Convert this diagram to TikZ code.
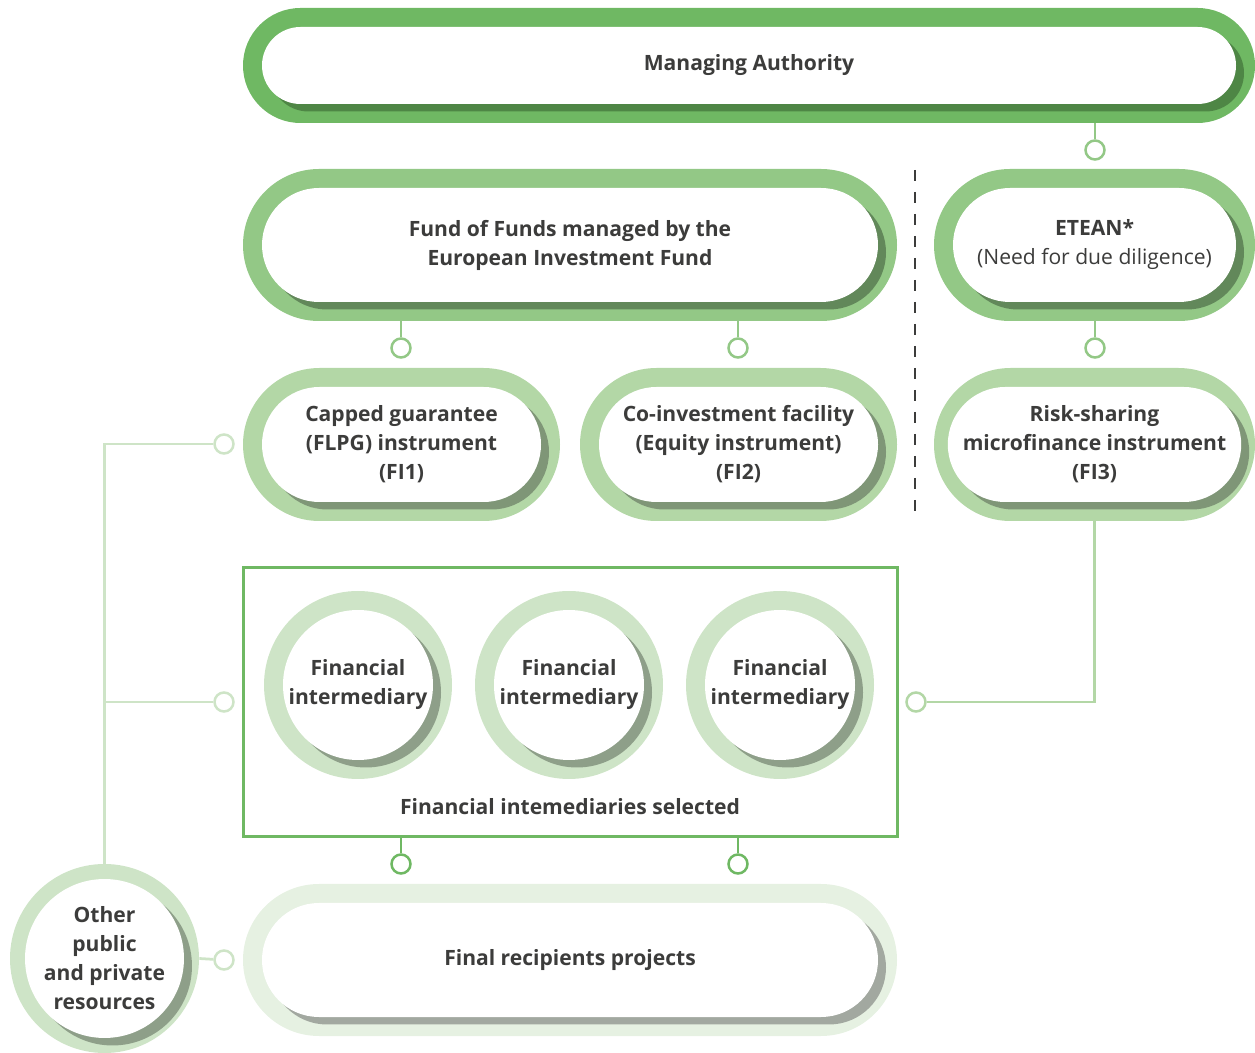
\documentclass[tikz,border=0pt]{standalone}
\usepackage{fontspec}
\setmainfont{Open Sans}
\usetikzlibrary{shapes.misc,shadows}

\definecolor{txt}{HTML}{3C3C3B}
\definecolor{ringA}{HTML}{6FB863}
\definecolor{shadA}{HTML}{4E8645}
\definecolor{ringB}{HTML}{93C886}
\definecolor{shadB}{HTML}{62885A}
\definecolor{ringC}{HTML}{B3D7A6}
\definecolor{shadC}{HTML}{7F9677}
\definecolor{ringD}{HTML}{CEE4C7}
\definecolor{shadD}{HTML}{8E9F89}
\definecolor{ringE}{HTML}{E6F1E2}
\definecolor{shadE}{HTML}{A2A8A0}

\tikzset{
  every node/.style={text=txt, font=\fontsize{12}{16.5}\selectfont\bfseries},
  pill/.style n args={3}{rounded rectangle, inner sep=0pt, fill=#1,
    minimum width=#2*0.02cm, minimum height=#3*0.02cm},
  hole/.style n args={3}{rounded rectangle, inner sep=0pt, fill=white, align=center,
    minimum width=(#2-38)*0.02cm, minimum height=(#3-38)*0.02cm,
    drop shadow={shadow xshift=0.16cm, shadow yshift=-0.15cm, shadow scale=1, opacity=1, fill=#1}},
  disc/.style 2 args={circle, inner sep=0pt, fill=#1, minimum size=#2*0.02cm},
  dischole/.style 2 args={circle, inner sep=0pt, fill=white, align=center,
    minimum size=(#2-38)*0.02cm,
    drop shadow={shadow xshift=0.16cm, shadow yshift=-0.15cm, shadow scale=1, opacity=1, fill=#1}},
  joint/.style={circle, draw=#1, line width=0.05cm, fill=white, minimum size=0.38cm, inner sep=0pt},
  link/.style={draw=#1, line width=0.055cm},
  divider/.style={draw=txt, line width=0.04cm, dash pattern=on 0.22cm off 0.22cm}
}

\begin{document}
\begin{tikzpicture}[x=0.02cm, y=-0.02cm]
  \useasboundingbox (0,0) rectangle (1255,1053);

  % top row
  \node[pill={ringA}{1012}{115}] (ma) at (749,65.5) {};
  \node[hole={shadA}{1012}{115}] (ma-in) at (ma) {Managing Authority};

  \node[pill={ringB}{654}{152}] (fof) at (570,245) {};
  \node[hole={shadB}{654}{152}] (fof-in) at (fof) {Fund of Funds managed by the\\European Investment Fund};
  \node[pill={ringB}{321}{152}] (etean) at (1094.5,245) {};
  \node[hole={shadB}{321}{152}] (etean-in) at (etean) {ETEAN*\\{\mdseries(Need for due diligence)}};

  % instruments
  \node[pill={ringC}{317}{153}] (fi1) at (401.5,444.5) {};
  \node[hole={shadC}{317}{153}] (fi1-in) at (fi1) {Capped guarantee\\(FLPG) instrument\\(FI1)};
  \node[pill={ringC}{317}{153}] (fi2) at (738.5,444.5) {};
  \node[hole={shadC}{317}{153}] (fi2-in) at (fi2) {Co-investment facility\\(Equity instrument)\\(FI2)};
  \node[pill={ringC}{321}{153}] (fi3) at (1094.5,444.5) {};
  \node[hole={shadC}{321}{153}] (fi3-in) at (fi3) {Risk-sharing\\microfinance instrument\\(FI3)};

  \draw[divider] (915,170) -- (915,521);

  % intermediaries
  \node[draw=ringA, line width=0.06cm, minimum width=654*0.02cm, minimum height=269*0.02cm] (box) at (570,702.5) {};
  \foreach \i/\x in {1/358, 2/569, 3/780} {
    \node[disc={ringD}{188}] (int\i) at (\x,685) {};
    \node[dischole={shadD}{188}] (int\i-in) at (int\i) {Financial\\intermediary};
  }
  \node (box-lbl) at (570,807) {Financial intemediaries selected};

  % final level
  \node[pill={ringE}{654}{152}] (fin) at (570,960) {};
  \node[hole={shadE}{654}{152}] (fin-in) at (fin) {Final recipients projects};
  \node[disc={ringD}{189}] (oth) at (104.5,958.5) {};
  \node[dischole={shadD}{189}] (oth-in) at (oth) {Other\\public\\and private\\resources};

  % joints
  \node[joint=ringB] (j-ma) at (1095,150) {};
  \node[joint=ringB] (j-fi1) at (401,348) {};
  \node[joint=ringB] (j-fi2) at (738,348) {};
  \node[joint=ringB] (j-fi3) at (1095,348) {};
  \node[joint=ringC] (j-box) at (916,702) {};
  \node[joint=ringA] (j-fin1) at (401,864) {};
  \node[joint=ringA] (j-fin2) at (738,864) {};
  \node[joint=ringD] (j-oth1) at (224,444) {};
  \node[joint=ringD] (j-oth2) at (224,702) {};
  \node[joint=ringD] (j-oth3) at (224,960) {};

  % connectors
  \draw[link=ringB] (ma.south -| j-ma) -- (j-ma);
  \draw[link=ringB] (fof.south -| j-fi1) -- (j-fi1);
  \draw[link=ringB] (fof.south -| j-fi2) -- (j-fi2);
  \draw[link=ringB] (etean.south -| j-fi3) -- (j-fi3);
  \draw[link=ringC] (fi3.south) -- (fi3.south |- j-box) -- (j-box);
  \draw[link=ringA] (box.south -| j-fin1) -- (j-fin1);
  \draw[link=ringA] (box.south -| j-fin2) -- (j-fin2);
  \draw[link=ringD] (oth.north) -- (oth.north |- j-oth1) -- (j-oth1);
  \draw[link=ringD] (oth.north |- j-oth2) -- (j-oth2);
  \draw[link=ringD] (oth.east) -- (j-oth3);
\end{tikzpicture}
\end{document}
